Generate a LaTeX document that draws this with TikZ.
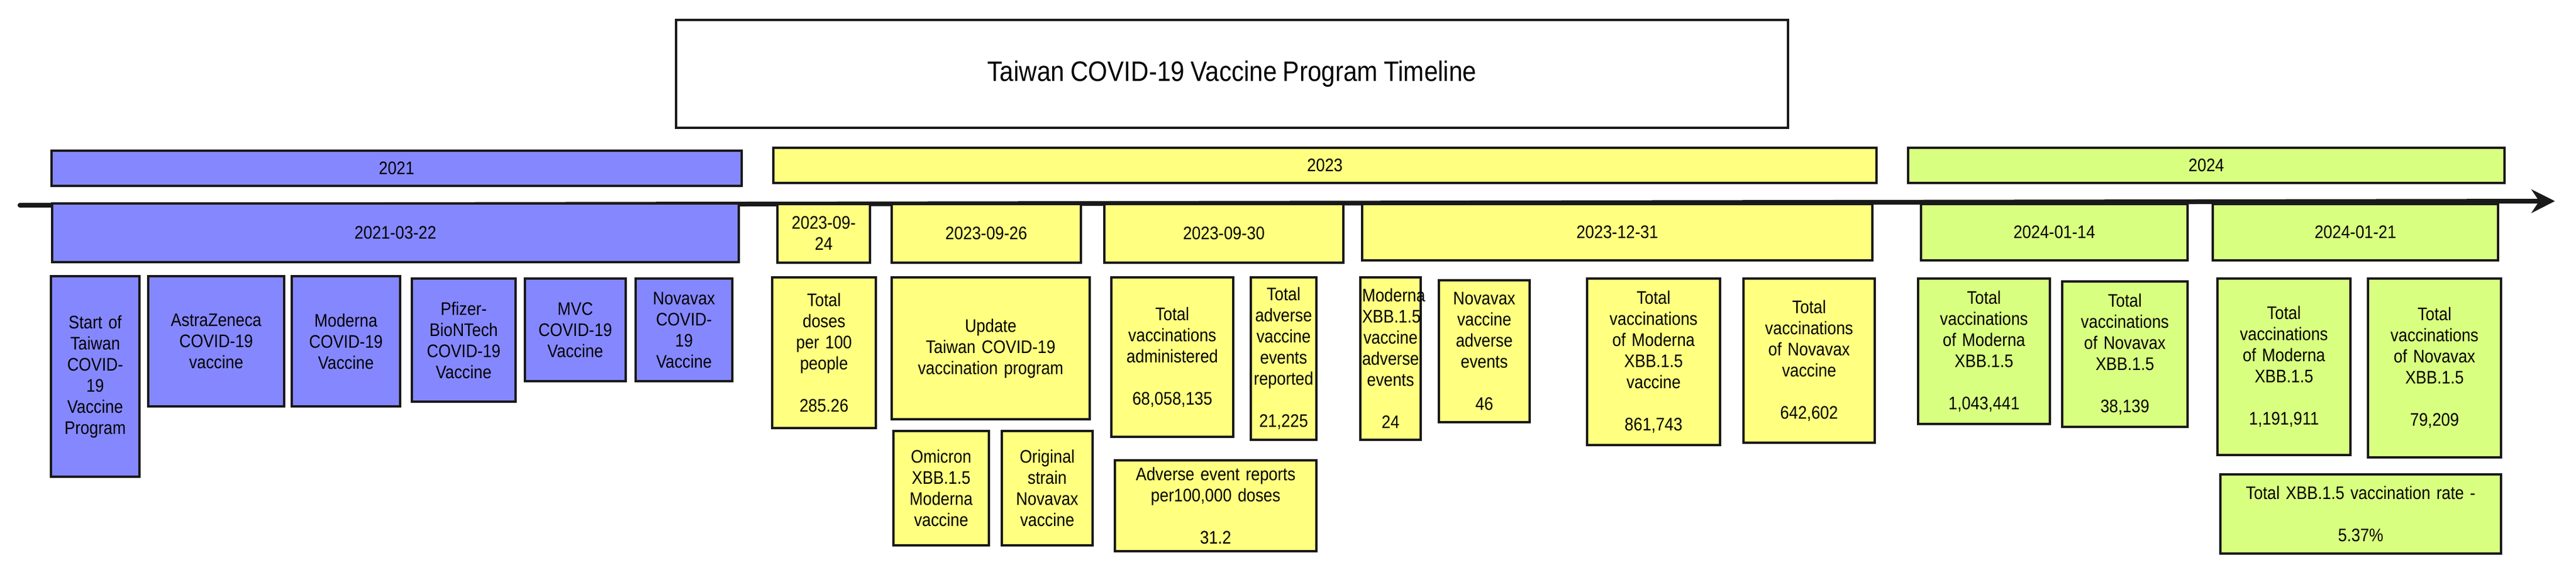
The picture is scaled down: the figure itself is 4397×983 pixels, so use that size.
\documentclass[tikz,border=0pt]{standalone}
\usepackage{fontspec}
\setmainfont{Liberation Sans}[FakeStretch=0.88]
\usetikzlibrary{arrows.meta}
\definecolor{cblue}{HTML}{8587FF}
\definecolor{cyel}{HTML}{FFFF80}
\definecolor{cgrn}{HTML}{D9FF80}
\tikzset{bx/.style={draw=black!90,line width=3.5pt,inner sep=1pt,align=center,font=\fontsize{31}{36}\selectfont}}
\newcommand\bx[7]{\node[bx,fill=#6,minimum width={(#4-#2)*1pt},minimum height={(#5-#3)*1pt},text width={(#4-#2-6)*1pt}] (#1) at ({(#2+#4)/2},{-(#3+#5)/2}) {#7};}
\begin{document}
\begin{tikzpicture}[x=1pt,y=1pt]
\useasboundingbox (0,0) rectangle (4397,-983);
\bx{title}{1154}{34}{3052}{218}{white}{\fontsize{48}{56}\selectfont Taiwan COVID-19 Vaccine Program Timeline}
% years
\bx{y21}{88}{257}{1266}{317}{cblue}{2021}
\bx{y23}{1320}{252}{3203}{312}{cyel}{2023}
\bx{y24}{3257}{252}{4275}{312}{cgrn}{2024}
% timeline
\coordinate (ts) at (34,-350);
\coordinate (te) at (4361,-343);
\draw[line width=8pt,black!90,line cap=round,-{Stealth[length=40pt,width=40pt]}] (ts) -- (te);
% dates
\bx{d1}{89}{347}{1261}{447}{cblue}{2021-03-22}
\bx{d2}{1327}{348}{1485}{448}{cyel}{2023-09-\\24}
\bx{d3}{1522}{348}{1845}{448}{cyel}{2023-09-26}
\bx{d4}{1885}{348}{2293}{448}{cyel}{2023-09-30}
\bx{d5}{2325}{348}{3196}{444}{cyel}{2023-12-31}
\bx{d6}{3279}{348}{3734}{444}{cgrn}{2024-01-14}
\bx{d7}{3777}{348}{4264}{444}{cgrn}{2024-01-21}
% 2021 items
\bx{a1}{87}{471}{238}{813}{cblue}{Start of\\Taiwan\\COVID-\\19\\Vaccine\\Program}
\bx{a2}{253}{471}{485}{693}{cblue}{AstraZeneca\\COVID-19\\vaccine}
\bx{a3}{498}{471}{683}{693}{cblue}{Moderna\\COVID-19\\Vaccine}
\bx{a4}{703}{475}{880}{685}{cblue}{Pfizer-\\BioNTech\\COVID-19\\Vaccine}
\bx{a5}{896}{475}{1068}{650}{cblue}{MVC\\COVID-19\\Vaccine}
\bx{a6}{1085}{475}{1250}{650}{cblue}{Novavax\\COVID-\\19\\Vaccine}
% 2023 items
\bx{b1}{1318}{473}{1495}{730}{cyel}{Total\\doses\\per 100\\people\\[36pt]285.26}
\bx{b2}{1522}{473}{1860}{715}{cyel}{Update\\Taiwan COVID-19\\vaccination program}
\bx{b3}{1525}{735}{1688}{930}{cyel}{Omicron\\XBB.1.5\\Moderna\\vaccine}
\bx{b4}{1710}{735}{1865}{930}{cyel}{Original\\strain\\Novavax\\vaccine}
\bx{b5}{1897}{473}{2105}{745}{cyel}{Total\\vaccinations\\administered\\[36pt]68,058,135}
\bx{b6}{2135}{473}{2247}{750}{cyel}{Total\\adverse\\vaccine\\events\\reported\\[36pt]21,225}
\bx{b7}{1903}{785}{2247}{940}{cyel}{Adverse event reports\\per100,000 doses\\[36pt]31.2}
\bx{b8}{2322}{473}{2425}{750}{cyel}{Moderna\\XBB.1.5\\vaccine\\adverse\\events\\[36pt]24}
\bx{b9}{2456}{478}{2611}{720}{cyel}{Novavax\\vaccine\\adverse\\events\\[36pt]46}
\bx{b10}{2709}{475}{2936}{759}{cyel}{Total\\vaccinations\\of Moderna\\XBB.1.5\\vaccine\\[36pt]861,743}
\bx{b11}{2976}{475}{3200}{755}{cyel}{Total\\vaccinations\\of Novavax\\vaccine\\[36pt]642,602}
% 2024 items
\bx{c1}{3274}{475}{3499}{723}{cgrn}{Total\\vaccinations\\of Moderna\\XBB.1.5\\[36pt]1,043,441}
\bx{c2}{3520}{480}{3734}{728}{cgrn}{Total\\vaccinations\\of Novavax\\XBB.1.5\\[36pt]38,139}
\bx{c3}{3785}{475}{4012}{776}{cgrn}{Total\\vaccinations\\of Moderna\\XBB.1.5\\[36pt]1,191,911}
\bx{c4}{4042}{475}{4269}{780}{cgrn}{Total\\vaccinations\\of Novavax\\XBB.1.5\\[36pt]79,209}
\bx{c5}{3790}{809}{4269}{944}{cgrn}{Total XBB.1.5 vaccination rate -\\[36pt]5.37\%}
\end{tikzpicture}
\end{document}
